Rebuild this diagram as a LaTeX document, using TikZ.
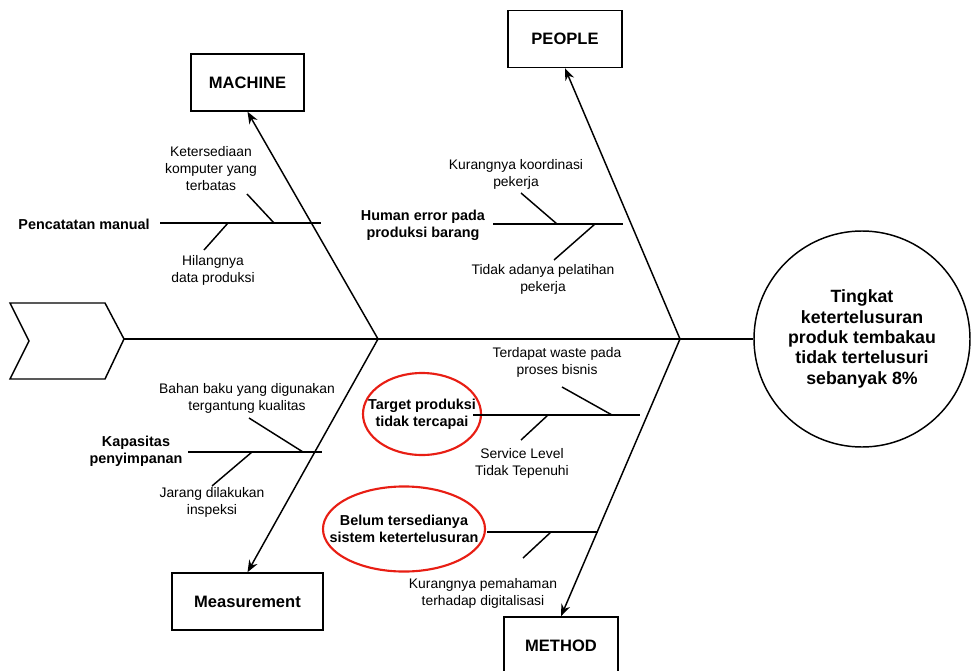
\documentclass[tikz,border=0pt]{standalone}
\usepackage{fontspec}
\setmainfont{Liberation Sans}
\usetikzlibrary{shapes.geometric,arrows.meta,positioning}
\definecolor{markred}{RGB}{232,30,20}
\tikzset{
    category/.style={
        draw,
        line width=1.1pt,
        minimum height=42.75pt,
        font=\fontsize{12.4}{15}\selectfont\bfseries
    },
    cause/.style={
        align=center,
        inner sep=0pt,
        font=\fontsize{10.8}{12.75}\selectfont\bfseries
    },
    subcause/.style={
        align=center,
        inner sep=0pt,
        font=\fontsize{10.4}{12.75}\selectfont
    },
    bone/.style={line width=1.1pt},
    ring/.style={draw=markred, line width=1.6pt}
}

\begin{document}
\begin{tikzpicture}[x=0.75pt,y=-0.75pt]
  \clip (0,0) rectangle (971,671);

  \draw[bone] (10,303) -- (105,303) -- (124,339) -- (105,379) -- (10,379) -- (29,341) -- cycle;
  \coordinate (tail) at (124,339);
  \node[draw, circle, line width=1.1pt, minimum size=162pt, inner sep=0pt, align=center,
        font=\fontsize{13.3}{15.3}\selectfont\bfseries] (E) at (862,339)
        {Tingkat\\ketertelusuran\\produk tembakau\\tidak tertelusuri\\sebanyak 8\%};
  \draw[bone] (tail) -- (E);

  \coordinate (J1) at (378,339);
  \coordinate (J2) at (680,339);

  \node[category, minimum width=84.75pt] (Mc) at (247.5,82.5) {MACHINE};
  \node[category, minimum width=85.5pt] (Pp) at (565,39) {PEOPLE};
  \node[category, minimum width=113.25pt] (Ms) at (247.5,601.5) {Measurement};
  \node[category, minimum width=85.5pt] (Mt) at (561,645.5) {METHOD};

  \draw[bone, -{Stealth[length=9pt,width=7pt]}] (J1) -- (Mc.south);
  \draw[bone, -{Stealth[length=9pt,width=7pt]}] (J2) -- (Pp.south);
  \draw[bone, -{Stealth[length=9pt,width=7pt]}] (J1) -- (Ms.north);
  \draw[bone, -{Stealth[length=9pt,width=7pt]}] (J2) -- (Mt.north);

  % machine
  \node[cause, anchor=east] (pm) at (150,224) {Pencatatan manual};
  \draw[bone] (160,223) -- (321,223);
  \node[subcause] (ks) at (211,169) {Ketersediaan\\komputer yang\\terbatas};
  \node[subcause] (hd) at (213,270) {Hilangnya\\data produksi};
  \draw[bone] (274,223) -- (247,194);
  \draw[bone] (228,223) -- (204,250);

  % people
  \node[cause] (he) at (423,225) {Human error pada\\produksi barang};
  \draw[bone] (493,224) -- (623,224);
  \node[subcause] (kk) at (516,174) {Kurangnya koordinasi\\pekerja};
  \node[subcause] (tp) at (543,279) {Tidak adanya pelatihan\\pekerja};
  \draw[bone] (557,224) -- (521,193);
  \draw[bone] (595,224) -- (554,260);

  % measurement
  \node[cause] (kp) at (136,451) {Kapasitas\\penyimpanan};
  \draw[bone] (188,452) -- (322,452);
  \node[subcause] (bb) at (247,398) {Bahan baku yang digunakan\\tergantung kualitas};
  \node[subcause] (jd) at (212,502) {Jarang dilakukan\\inspeksi};
  \draw[bone] (303,452) -- (249,418);
  \draw[bone] (252,452) -- (212,486);

  % method
  \node[cause] (tg) at (422,414) {Target produksi\\tidak tercapai};
  \draw[ring] (tg.center) ellipse [x radius=44.25pt, y radius=30.75pt];
  \draw[bone] (473,415) -- (640,415);
  \node[subcause] (tw) at (557,362) {Terdapat waste pada\\proses bisnis};
  \node[subcause] (sl) at (522,463) {Service Level\\Tidak Tepenuhi};
  \draw[bone] (612,415) -- (562,387);
  \draw[bone] (548,415) -- (521,440);

  \node[cause] (bt) at (404,529) {Belum tersedianya\\sistem ketertelusuran};
  \draw[ring] (bt.center) ellipse [x radius=60.75pt, y radius=31.9pt];
  \draw[bone] (487,532) -- (598,532);
  \node[subcause] (kd) at (483,593) {Kurangnya pemahaman\\terhadap digitalisasi};
  \draw[bone] (551,532) -- (523,558);

\end{tikzpicture}
\end{document}
